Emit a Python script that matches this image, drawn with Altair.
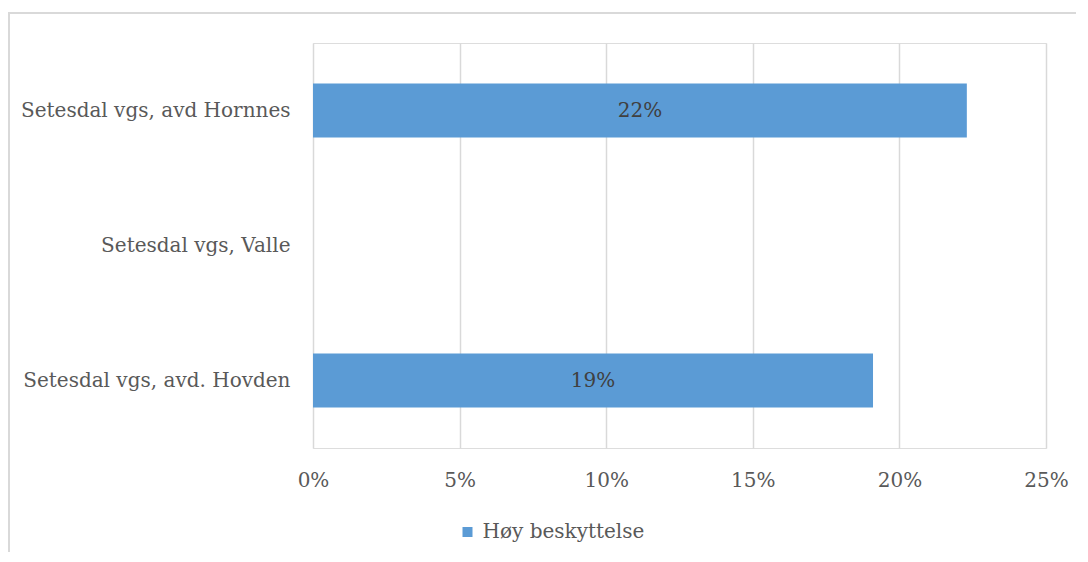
import altair as alt
import pandas as pd

categories = ["Setesdal vgs, avd Hornnes", "Setesdal vgs, Valle", "Setesdal vgs, avd. Hovden"]
values = [0.223, None, 0.191]
series_name = "Høy beskyttelse"
x_ticks = [0, 0.05, 0.10, 0.15, 0.20, 0.25]

df = pd.DataFrame({"kategori": categories, "verdi": values, "serie": [series_name] * 3})
df_valid = df.dropna()

FONT = "DejaVu Serif"
FS = 20
W, H = 733, 405

y_enc = alt.Y("kategori:N", sort=categories, scale=alt.Scale(domain=categories, paddingInner=0.6, paddingOuter=0.3),
              axis=alt.Axis(title=None, domain=False, ticks=False, labelPadding=23, labelFontSize=FS,
                            labelColor="#595959", labelFont=FONT, labelLimit=300))

bars = alt.Chart(df_valid).mark_bar(color="#5b9bd5").encode(
    x=alt.X("verdi:Q", scale=alt.Scale(domain=[0, 0.25], nice=False),
            axis=alt.Axis(title=None, values=x_ticks, format=".0%", domain=False, ticks=False,
                          grid=True, gridColor="#d9d9d9", gridWidth=1.5, labelPadding=22,
                          labelFlush=False, labelFontSize=FS, labelColor="#595959", labelFont=FONT)),
    y=y_enc,
    color=alt.Color("serie:N", scale=alt.Scale(range=["#5b9bd5"]),
                    legend=alt.Legend(title=None, orient="none", legendX=W / 2 - 222, legendY=H + 74,
                                      symbolType="square", symbolSize=100, symbolStrokeWidth=0,
                                      labelFontSize=FS, labelColor="#595959", labelFont=FONT,
                                      labelOffset=5, labelLimit=400)),
)

labels = alt.Chart(df_valid).mark_text(fontSize=FS, font=FONT, color="#404040").encode(
    x=alt.X("mid:Q"),
    y=alt.Y("kategori:N", sort=categories),
    text=alt.Text("verdi:Q", format=".0%"),
).transform_calculate(mid="datum.verdi / 2")

border_top = alt.Chart(pd.DataFrame({"a": [0]})).mark_rule(color="#d9d9d9", strokeWidth=2, clip=False).encode(
    x=alt.value(-305), x2=alt.value(W + 30), y=alt.value(-30)
)
border_left = alt.Chart(pd.DataFrame({"a": [0]})).mark_rule(color="#d9d9d9", strokeWidth=2, clip=False).encode(
    x=alt.value(-304), y=alt.value(-30), y2=alt.value(H + 104)
)

chart = alt.layer(bars, labels, border_top, border_left).properties(
    width=W, height=H,
    autosize=alt.AutoSizeParams(type="none"),
    padding={"left": 305, "top": 35, "right": 30, "bottom": 104},
).configure_view(stroke=None).configure(background="white")

chart.save("out.html", embed_options={"renderer": "svg", "actions": False})
